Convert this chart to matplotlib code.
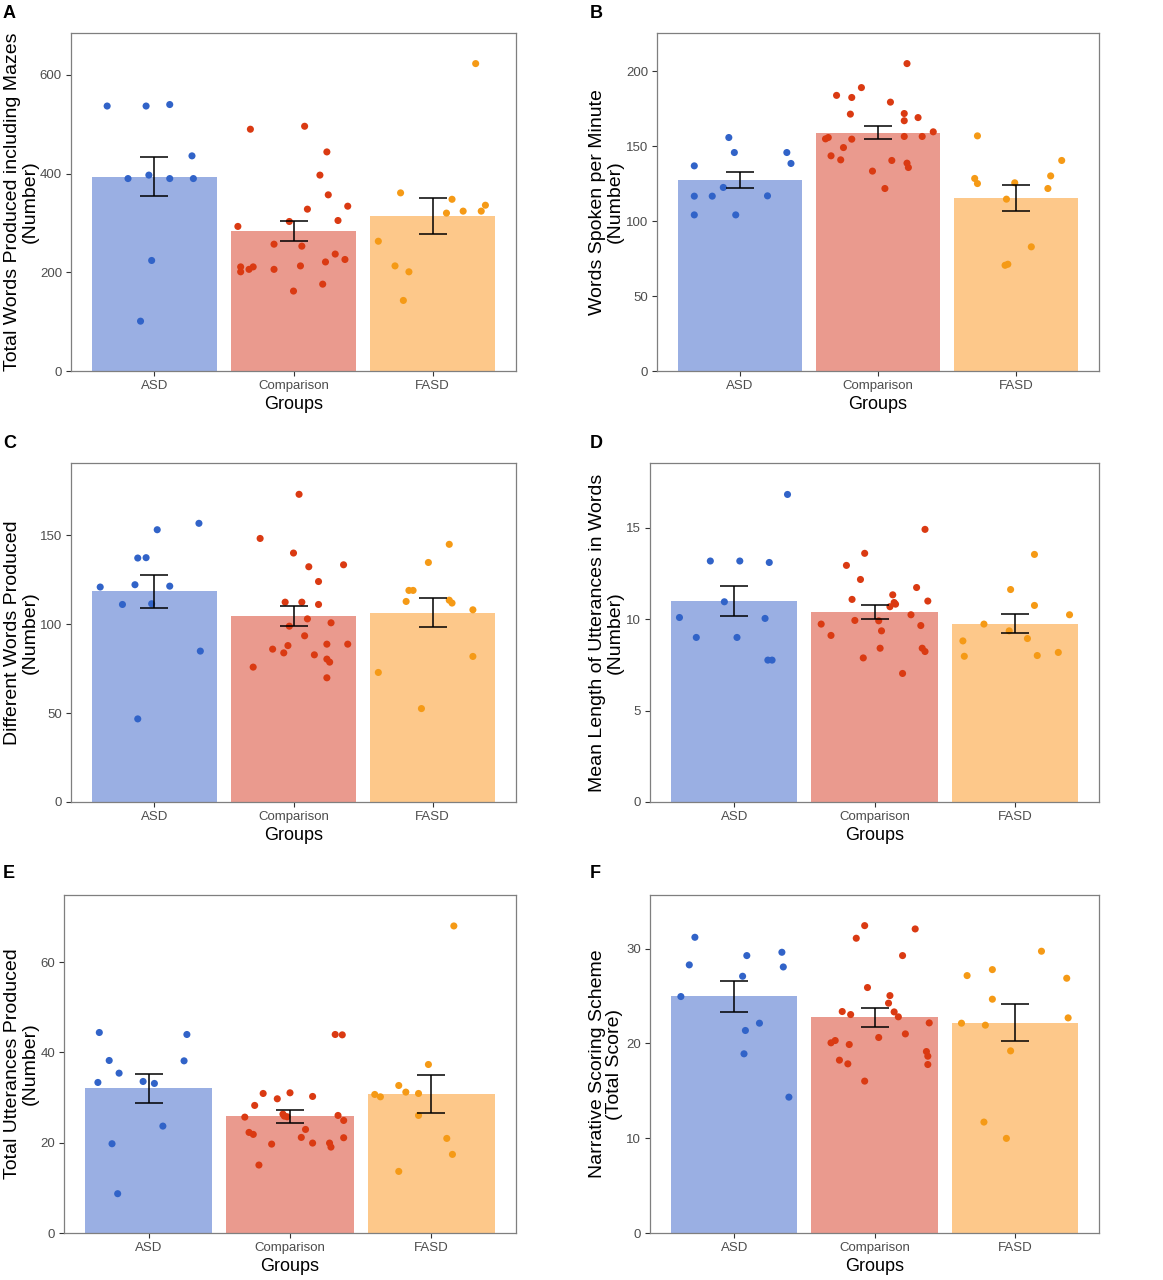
import numpy as np
import matplotlib
matplotlib.use("Agg")
import matplotlib.pyplot as plt

plt.rcParams['font.family'] = ['Liberation Sans', 'DejaVu Sans']

groups = ["ASD", "Comparison", "FASD"]
point_colors = ["#3163C8", "#DA3A12", "#F59A16"]
bar_colors = ["#9AAFE3", "#EA9A8E", "#FDC88A"]

# ---- panel A: total words incl. mazes ----
a_means = [394, 284, 314]
a_se = [40, 20, 37]
a_vals = [
    [537, 537, 540, 436, 390, 397, 390, 390, 224, 101],
    [490, 496, 444, 397, 357, 328, 334, 303, 305, 293, 257, 253, 237, 226, 221,
     211, 201, 206, 211, 206, 213, 176, 162],
    [623, 361, 348, 320, 324, 324, 336, 263, 213, 201, 143],
]
a_jit = [
    [-0.34, -0.06, 0.11, 0.27, -0.19, -0.04, 0.11, 0.28, -0.02, -0.10],
    [-0.31, 0.08, 0.24, 0.19, 0.25, 0.10, 0.39, -0.03, 0.32, -0.40, -0.14, 0.06,
     0.30, 0.37, 0.23, -0.38, -0.38, -0.32, -0.29, -0.14, 0.05, 0.21, 0.00],
    [0.31, -0.23, 0.14, 0.10, 0.22, 0.35, 0.38, -0.39, -0.27, -0.17, -0.21],
]

# ---- panel B: words per minute ----
b_means = [127.6, 158.9, 115.2]
b_se = [5.3, 4.4, 8.6]
b_vals = [
    [155.7, 145.7, 145.7, 138.4, 136.8, 122.4, 116.6, 116.6, 116.8, 104.1, 104.1],
    [205, 189, 183.8, 182.4, 179.3, 171.3, 171.7, 169, 166.9, 159.5, 154.8, 155.7,
     154.6, 156.4, 156.4, 149, 143.5, 140.8, 140.4, 138.6, 135.7, 133.3, 121.7],
    [156.8, 140.4, 130.1, 128.4, 125, 125.5, 121.7, 114.6, 82.8, 71.2, 70.5],
]
b_jit = [
    [-0.08, -0.04, 0.34, 0.37, -0.33, -0.12, -0.33, -0.20, 0.20, -0.33, -0.03],
    [0.21, -0.12, -0.30, -0.19, 0.09, -0.20, 0.19, 0.29, 0.19, 0.40, -0.38, -0.36,
     -0.19, 0.19, 0.32, -0.25, -0.34, -0.27, 0.10, 0.21, 0.22, -0.04, 0.05],
    [-0.28, 0.33, 0.25, -0.30, -0.28, -0.01, 0.23, -0.07, 0.11, -0.06, -0.08],
]

# ---- panel C: different words ----
c_means = [118.4, 104.5, 106.4]
c_se = [9.4, 5.6, 8.2]
c_vals = [
    [156.6, 153, 137.1, 137.3, 120.8, 122.1, 121.3, 111, 111.4, 84.8, 46.7],
    [172.9, 148.1, 139.9, 132.2, 133.3, 123.9, 112.3, 112.3, 111, 102.9, 100.7,
     98.8, 93.4, 88.7, 88.7, 87.9, 85.9, 83.8, 82.7, 80.3, 78.6, 75.8, 69.8],
    [144.8, 134.6, 118.9, 118.9, 112.7, 113.4, 111.8, 108, 81.8, 72.8, 52.5],
]
c_jit = [
    [0.32, 0.02, -0.12, -0.06, -0.39, -0.14, 0.11, -0.23, -0.02, 0.33, -0.12],
    [0.04, -0.24, 0.00, 0.11, 0.36, 0.18, -0.06, 0.06, 0.18, 0.10, 0.27, -0.03,
     0.08, 0.24, 0.39, -0.04, -0.15, -0.07, 0.15, 0.24, 0.26, -0.29, 0.24],
    [0.12, -0.03, -0.17, -0.14, -0.19, 0.12, 0.14, 0.29, 0.29, -0.39, -0.08],
]

# ---- panel D: mean length of utterances ----
d_means = [10.99, 10.39, 9.74]
d_se = [0.84, 0.40, 0.52]
d_vals = [
    [16.82, 13.18, 13.18, 13.1, 10.95, 10.09, 10.04, 9.0, 9.0, 7.76, 7.76],
    [14.91, 13.6, 12.94, 12.17, 11.73, 11.33, 11.08, 10.99, 10.91, 10.82, 10.68,
     10.24, 9.73, 9.93, 9.91, 9.65, 9.36, 9.11, 8.41, 8.41, 8.23, 7.88, 7.03],
    [13.54, 11.62, 10.75, 10.24, 9.73, 9.36, 8.94, 8.81, 7.97, 8.01, 8.18],
]
d_jit = [
    [0.38, -0.17, 0.04, 0.25, -0.07, -0.39, 0.22, -0.27, 0.02, 0.24, 0.27],
    [0.36, -0.07, -0.20, -0.10, 0.30, 0.13, -0.16, 0.38, 0.14, 0.15, 0.11, 0.26,
     -0.38, -0.14, 0.03, 0.33, 0.05, -0.31, 0.04, 0.34, 0.36, -0.08, 0.20],
    [0.14, -0.03, 0.14, 0.39, -0.22, -0.04, 0.09, -0.37, -0.36, 0.16, 0.31],
]

# ---- panel E: total utterances ----
e_means = [32.04, 25.85, 30.8]
e_se = [3.2, 1.5, 4.3]
e_vals = [
    [44.43, 43.99, 38.23, 38.15, 35.42, 33.36, 33.58, 33.14, 23.69, 19.78, 8.71],
    [43.99, 43.91, 30.92, 31.07, 29.74, 30.26, 28.27, 25.68, 26.35, 25.9, 26.05,
     24.94, 22.95, 22.29, 21.85, 21.18, 21.11, 19.7, 19.93, 19.93, 19.04, 15.06, 25.76],
    [68.04, 37.34, 32.69, 31.22, 30.7, 30.18, 30.92, 26.05, 20.96, 17.42, 13.65],
]
e_jit = [
    [-0.35, 0.27, -0.28, 0.25, -0.21, -0.36, -0.04, 0.04, 0.10, -0.26, -0.22],
    [0.32, 0.37, -0.19, 0.00, -0.09, 0.16, -0.25, -0.32, -0.05, -0.04, 0.34, 0.38,
     0.11, -0.29, -0.26, 0.08, 0.38, -0.13, 0.16, 0.28, 0.29, -0.22, -0.02],
    [0.16, -0.02, -0.23, -0.18, -0.40, -0.36, -0.09, -0.09, 0.11, 0.15, -0.23],
]

# ---- panel F: narrative scoring scheme ----
f_means = [24.95, 22.76, 22.2]
f_se = [1.6, 0.98, 1.95]
f_vals = [
    [31.19, 29.26, 29.61, 28.28, 28.06, 27.08, 24.94, 22.13, 21.36, 18.9, 14.33],
    [32.42, 32.07, 31.09, 29.26, 25.89, 25.04, 24.24, 23.32, 22.8, 23.36, 23.04,
     22.16, 20.62, 21.0, 20.06, 20.3, 19.88, 19.14, 18.65, 17.77, 18.23, 17.84, 16.02],
    [29.72, 27.78, 26.87, 27.15, 24.66, 22.69, 22.13, 21.92, 19.21, 11.7, 9.98],
]
f_jit = [
    [-0.28, 0.09, 0.34, -0.32, 0.35, 0.06, -0.38, 0.18, 0.08, 0.07, 0.39],
    [-0.07, 0.29, -0.13, 0.20, -0.05, 0.11, 0.10, 0.14, 0.17, -0.23, -0.17, 0.39,
     0.03, 0.22, -0.31, -0.28, -0.18, 0.37, 0.38, 0.38, -0.25, -0.19, -0.07],
    [0.19, -0.16, 0.37, -0.34, -0.16, 0.38, -0.38, -0.21, -0.03, -0.22, -0.06],
]

ylabels = [
    "Total Words Produced including Mazes\n(Number)",
    "Words Spoken per Minute\n(Number)",
    "Different Words Produced\n(Number)",
    "Mean Length of Utterances in Words\n(Number)",
    "Total Utterances Produced\n(Number)",
    "Narrative Scoring Scheme\n(Total Score)",
]
letters = ["A", "B", "C", "D", "E", "F"]
ymax = [685, 225.4, 190.5, 18.54, 74.9, 35.65]
yticks = [[0, 200, 400, 600], [0, 50, 100, 150, 200], [0, 50, 100, 150],
          [0, 5, 10, 15], [0, 20, 40, 60], [0, 10, 20, 30]]

panels = [
    (a_means, a_se, a_vals, a_jit),
    (b_means, b_se, b_vals, b_jit),
    (c_means, c_se, c_vals, c_jit),
    (d_means, d_se, d_vals, d_jit),
    (e_means, e_se, e_vals, e_jit),
    (f_means, f_se, f_vals, f_jit),
]

W, H = 1163, 1280
# axes boxes in pixels: left, right, top, bottom
boxes = [(71, 516, 33, 371), (657, 1099, 33, 371),
         (71, 516, 463, 802), (650, 1099, 463, 802),
         (64, 516, 895, 1233), (650, 1099, 895, 1233)]
label_off = [-50, -51, -50, -44, -43, -44]
letter_pos = [(3, 13), (590, 13), (3, 443), (590, 443), (3, 873), (590, 873)]

fig = plt.figure(figsize=(W / 100, H / 100), dpi=100)
frame_col = "#7F7F7F"
tick_col = "#4D4D4D"

for i, (means, se, vals, jit) in enumerate(panels):
    l, r, t, b = boxes[i]
    ax = fig.add_axes([l / W, 1 - b / H, (r - l) / W, (b - t) / H])
    x = np.arange(1, 4)
    ax.bar(x, means, width=0.9, color=bar_colors, zorder=1)
    for g in range(3):
        xs = x[g] + np.array(jit[g])
        ax.scatter(xs, vals[g], s=26, color=point_colors[g], edgecolors="none", zorder=2)
    ax.errorbar(x, means, yerr=se, fmt="none", ecolor="black", elinewidth=1.1,
                capsize=10, capthick=1.1, zorder=3)
    ax.set_xlim(0.4, 3.6)
    ax.set_ylim(0, ymax[i])
    ax.set_xticks(x)
    ax.set_xticklabels(groups)
    ax.set_yticks(yticks[i])
    ax.tick_params(axis="both", length=3.5, width=0.8, color="#333333",
                   labelcolor=tick_col, labelsize=9.5, pad=3)
    for sp in ax.spines.values():
        sp.set_color(frame_col)
        sp.set_linewidth(0.9)
    ax.set_xlabel("Groups", fontsize=13, labelpad=3)
    ax.text(label_off[i] / (r - l), 0.5, ylabels[i], transform=ax.transAxes,
            rotation=90, ha="center", va="center", fontsize=14, linespacing=1.05)
    lx, ly = letter_pos[i]
    fig.text(lx / W, 1 - ly / H, letters[i], fontsize=13, fontweight="bold",
             ha="left", va="center")

fig.savefig("out.png", dpi=100)
